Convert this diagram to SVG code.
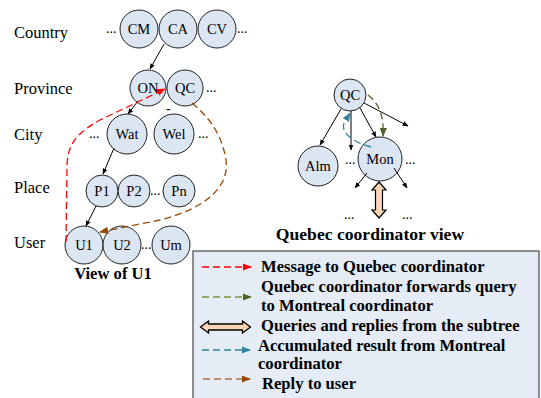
<svg xmlns="http://www.w3.org/2000/svg" width="541" height="398" viewBox="0 0 541 398">
<style>
.lbl{font-family:"Liberation Serif",serif;font-size:16.5px;fill:#000}
.nt{font-family:"Liberation Serif",serif;font-size:14.5px;fill:#000;text-anchor:middle}
.bt{font-family:"Liberation Serif",serif;font-size:16.6px;font-weight:bold;fill:#000}
.cap{font-family:"Liberation Serif",serif;font-weight:bold;fill:#000;text-anchor:middle}
.dots{font-family:"Liberation Serif",serif;font-size:14px;fill:#000}
circle.n{fill:#DCE6F2;stroke:#222;stroke-width:1}
.ar{fill:none;stroke:#000;stroke-width:1;marker-end:url(#mb)}
.dash{fill:none;stroke-width:1.3;stroke-dasharray:7 4}
</style>
<defs>
<marker id="mb" viewBox="0 0 10 10" refX="9" refY="5" markerWidth="6" markerHeight="6" orient="auto"><path d="M0,1 L10,5 L0,9 z" fill="#000"/></marker>
<marker id="mr" viewBox="0 0 10 10" refX="9" refY="5" markerWidth="7" markerHeight="7" orient="auto"><path d="M0,1 L10,5 L0,9 z" fill="#FF0000"/></marker>
<marker id="mg" viewBox="0 0 10 10" refX="9" refY="5" markerWidth="7" markerHeight="7" orient="auto"><path d="M0,1 L10,5 L0,9 z" fill="#4F6228"/></marker>
<marker id="mt" viewBox="0 0 10 10" refX="9" refY="5" markerWidth="7" markerHeight="7" orient="auto"><path d="M0,1 L10,5 L0,9 z" fill="#31849B"/></marker>
<marker id="mo" viewBox="0 0 10 10" refX="9" refY="5" markerWidth="7" markerHeight="7" orient="auto"><path d="M0,1 L10,5 L0,9 z" fill="#984806"/></marker>
<path id="dbl" d="M-25,0 L-17,-6 L-17,-3 L17,-3 L17,-6 L25,0 L17,6 L17,3 L-17,3 L-17,6 z" fill="#FBD5B5" stroke="#000" stroke-width="1.3"/>
<path id="dblv" d="M0,-18 L-7,-10 L-3.5,-10 L-3.5,10 L-7,10 L0,18 L7,10 L3.5,10 L3.5,-10 L7,-10 z" fill="#FBD5B5" stroke="#000" stroke-width="1.2"/>
</defs>

<g id="levels">
<text class="lbl" x="14" y="38">Country</text>
<text class="lbl" x="14" y="94">Province</text>
<text class="lbl" x="14" y="140">City</text>
<text class="lbl" x="14" y="193">Place</text>
<text class="lbl" x="14" y="248">User</text>
</g>

<g id="CM"><circle class="n" cx="139" cy="29" r="19"/><text class="nt" x="139" y="34">CM</text></g>
<g id="CA"><circle class="n" cx="178" cy="29" r="19"/><text class="nt" x="178" y="34">CA</text></g>
<g id="CV"><circle class="n" cx="217" cy="29" r="19"/><text class="nt" x="217" y="34">CV</text></g>
<g id="ON"><circle class="n" cx="148" cy="88" r="18"/><text class="nt" x="148" y="93">ON</text></g>
<g id="QC"><circle class="n" cx="185" cy="88" r="18"/><text class="nt" x="185" y="93">QC</text></g>
<g id="Wat"><circle class="n" cx="127" cy="134" r="20"/><text class="nt" x="127" y="139">Wat</text></g>
<g id="Wel"><circle class="n" cx="174" cy="134" r="20"/><text class="nt" x="174" y="139">Wel</text></g>
<g id="P1"><circle class="n" cx="102" cy="191" r="16"/><text class="nt" x="102" y="196">P1</text></g>
<g id="P2"><circle class="n" cx="134" cy="191" r="16"/><text class="nt" x="134" y="196">P2</text></g>
<g id="Pn"><circle class="n" cx="179" cy="191" r="16"/><text class="nt" x="179" y="196">Pn</text></g>
<g id="U1"><circle class="n" cx="84" cy="245" r="19"/><text class="nt" x="84" y="250">U1</text></g>
<g id="U2"><circle class="n" cx="122" cy="245" r="19"/><text class="nt" x="122" y="250">U2</text></g>
<g id="Um"><circle class="n" cx="171" cy="245" r="19"/><text class="nt" x="171" y="250">Um</text></g>

<g id="left-dots">
<text class="dots" x="106" y="33">...</text>
<text class="dots" x="237" y="33">...</text>
<text class="dots" x="206" y="92">...</text>
<text class="dots" x="89" y="138">...</text>
<text class="dots" x="198" y="138">...</text>
<text class="dots" x="150" y="195">...</text>
<text class="dots" x="141" y="249">...</text>
<text class="dots" x="166" y="113">-</text>
</g>

<g id="QC2"><circle class="n" cx="350" cy="95" r="16"/><text class="nt" x="350" y="100">QC</text></g>
<g id="Mon"><circle class="n" cx="380" cy="159" r="22"/><text class="nt" x="380" y="164">Mon</text></g>
<g id="Alm"><circle class="n" cx="318" cy="166" r="20"/><text class="nt" x="318" y="171">Alm</text></g>
<g id="right-dots">
<text class="dots" x="345" y="164">...</text>
<text class="dots" x="405" y="164">...</text>
<text class="dots" x="344" y="219">...</text>
<text class="dots" x="402" y="219">...</text>
</g>

<g id="connectors">
<line class="ar" x1="164" y1="44" x2="150" y2="69"/>
<line class="ar" x1="138" y1="101" x2="128" y2="114"/>
<line class="ar" x1="114" y1="148" x2="103" y2="174"/>
<line class="ar" x1="96" y1="206" x2="86" y2="226"/>
<line class="ar" x1="341" y1="109" x2="320" y2="145"/>
<line class="ar" x1="351" y1="111" x2="351" y2="150"/>
<line class="ar" x1="360" y1="108" x2="376" y2="137"/>
<line class="ar" x1="364" y1="103" x2="408" y2="126"/>
<line class="ar" x1="367" y1="173" x2="355" y2="188"/>
<line class="ar" x1="394" y1="168" x2="407" y2="188"/>
<use href="#dblv" transform="translate(379,200)"/>
<path class="dash" stroke="#FF0000" marker-end="url(#mr)" d="M66,242 L67,165 C68,145 75,134 100,120 L165,89"/>
<path class="dash" stroke="#984806" marker-end="url(#mo)" d="M192,103 C210,118 222,135 226,160 C230,190 200,210 160,220 L100,232"/>
<path class="dash" stroke="#4F6228" marker-end="url(#mg)" d="M368,95 C378,103 384,113 383,136"/>
<path class="dash" stroke="#31849B" marker-end="url(#mt)" d="M371,147 C355,143 340,133 344,123 L350,113"/>
</g>

<g id="captions">
<text class="cap" x="113" y="279" font-size="16.6">View of U1</text>
<text class="cap" x="370" y="240" font-size="17.6">Quebec coordinator view</text>
</g>

<g id="legend">
<rect x="193" y="251" width="346" height="160" fill="#E6ECF6" stroke="#555" stroke-width="1.3"/>
<line class="dash" stroke="#FF0000" marker-end="url(#mr)" x1="202" y1="267" x2="251" y2="267"/>
<text class="bt" x="261" y="272">Message to Quebec coordinator</text>
<line class="dash" stroke="#76923C" marker-end="url(#mg)" x1="202" y1="297" x2="251" y2="297"/>
<text class="bt" x="261" y="292">Quebec coordinator forwards query</text>
<text class="bt" x="261" y="311">to Montreal coordinator</text>
<use href="#dbl" transform="translate(225.5,327)"/>
<text class="bt" x="261" y="331">Queries and replies from the subtree</text>
<line class="dash" stroke="#31849B" marker-end="url(#mt)" x1="202" y1="350" x2="250" y2="350"/>
<text class="bt" x="258" y="351">Accumulated result from Montreal</text>
<text class="bt" x="258" y="368.5">coordinator</text>
<line class="dash" stroke="#B0703C" marker-end="url(#mo)" x1="203" y1="379" x2="250" y2="379"/>
<text class="bt" x="262" y="389">Reply to user</text>
</g>
</svg>
